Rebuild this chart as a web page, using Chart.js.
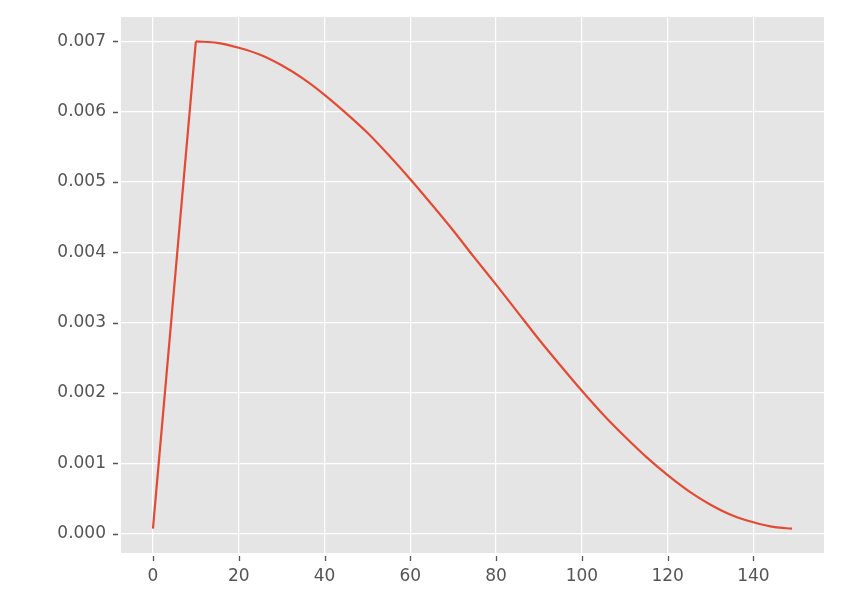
<!DOCTYPE html>
<html lang="en">
<head>
<meta charset="utf-8" />
<title>Learning rate schedule</title>
<script src="https://cdn.jsdelivr.net/npm/chart.js@4.4.0/dist/chart.umd.min.js"></script>
<style>
	body { margin: 0; background: #ffffff; }
	#chart { display: block; }
</style>
</head>
<body>
<canvas id="chart" width="860" height="607"></canvas>
<script>
	// warmup ramp
	const warmupEpochs = [0, 10];
	const warmupLr = [0.00007, 0.00700];
	// decay part
	const decayEpochs = [10, 15, 20, 25, 30, 35, 40, 45, 50, 55, 60, 65, 70, 75, 80,
		85, 90, 95, 100, 105, 110, 115, 120, 125, 130, 135, 140, 145, 149];
	const decayLr = [0.00700, 0.00698, 0.00691, 0.00681, 0.00666, 0.00647, 0.00624,
		0.00598, 0.00570, 0.00538, 0.00504, 0.00468, 0.00431, 0.00392, 0.00354,
		0.00315, 0.00276, 0.00239, 0.00203, 0.00169, 0.00138, 0.00109, 0.00083,
		0.00060, 0.00041, 0.00026, 0.00016, 0.00009, 0.00007];
	const xTicks = [0, 20, 40, 60, 80, 100, 120, 140];
	const yTicks = [0, 0.001, 0.002, 0.003, 0.004, 0.005, 0.006, 0.007];

	const tickFont = { family: "'DejaVu Sans', sans-serif", size: 17 };
	const lineColor = '#e24a33';

	// matplotlib style tick marks sitting just outside the plot area
	const tickMarks = {
		id: 'tickMarks',
		afterDraw(chart) {
			const ctx = chart.ctx;
			const area = chart.chartArea;
			const xs = chart.scales.x, ys = chart.scales.y;
			ctx.save();
			ctx.strokeStyle = '#555555';
			ctx.lineWidth = 1.3;
			ctx.beginPath();
			xs.ticks.forEach(t => {
				const px = Math.round(xs.getPixelForValue(t.value)) + 0.5;
				ctx.moveTo(px, area.bottom + 3);
				ctx.lineTo(px, area.bottom + 8);
			});
			ys.ticks.forEach(t => {
				const py = Math.round(ys.getPixelForValue(t.value)) + 0.5;
				ctx.moveTo(area.left - 3, py);
				ctx.lineTo(area.left - 8, py);
			});
			ctx.stroke();
			ctx.restore();
		}
	};

	const plotBackground = {
		id: 'plotBackground',
		beforeDraw(chart) {
			const { ctx, chartArea } = chart;
			ctx.save();
			ctx.fillStyle = '#e5e5e5';
			ctx.fillRect(chartArea.left, chartArea.top, chartArea.width, chartArea.height);
			ctx.restore();
		}
	};

	const toPoints = (xs, ys) => xs.map((e, i) => ({ x: e, y: ys[i] }));

	new Chart(document.getElementById('chart'), {
		type: 'line',
		data: {
			datasets: [{
				data: toPoints(warmupEpochs, warmupLr),
				borderColor: lineColor,
				borderWidth: 2.2,
				pointRadius: 0,
				tension: 0,
				fill: false
			}, {
				data: toPoints(decayEpochs, decayLr),
				borderColor: lineColor,
				borderWidth: 2.2,
				pointRadius: 0,
				cubicInterpolationMode: 'monotone',
				fill: false
			}]
		},
		options: {
			responsive: false,
			animation: false,
			layout: { padding: { left: 0, right: 36, top: 17, bottom: 0 } },
			plugins: {
				legend: { display: false },
				tooltip: { enabled: false }
			},
			scales: {
				x: {
					type: 'linear',
					min: -7.45,
					max: 156.45,
					afterBuildTicks: s => { s.ticks = xTicks.map(v => ({ value: v })); },
					afterFit: s => { s.height = 54; s.paddingLeft = 0; s.paddingRight = 0; },
					border: { display: false },
					grid: { color: '#ffffff', lineWidth: 1.2, drawTicks: false },
					ticks: { color: '#555555', font: tickFont, padding: 13, maxRotation: 0 }
				},
				y: {
					min: -0.000277,
					max: 0.007347,
					afterBuildTicks: s => { s.ticks = yTicks.map(v => ({ value: v })); },
					afterFit: s => { s.width = 121; s.paddingTop = 0; s.paddingBottom = 0; },
					border: { display: false },
					grid: { color: '#ffffff', lineWidth: 1.2, drawTicks: false },
					ticks: {
						color: '#555555', font: tickFont, padding: 15,
						callback: v => v.toFixed(3)
					}
				}
			}
		},
		plugins: [plotBackground, tickMarks]
	});
</script>
</body>
</html>
